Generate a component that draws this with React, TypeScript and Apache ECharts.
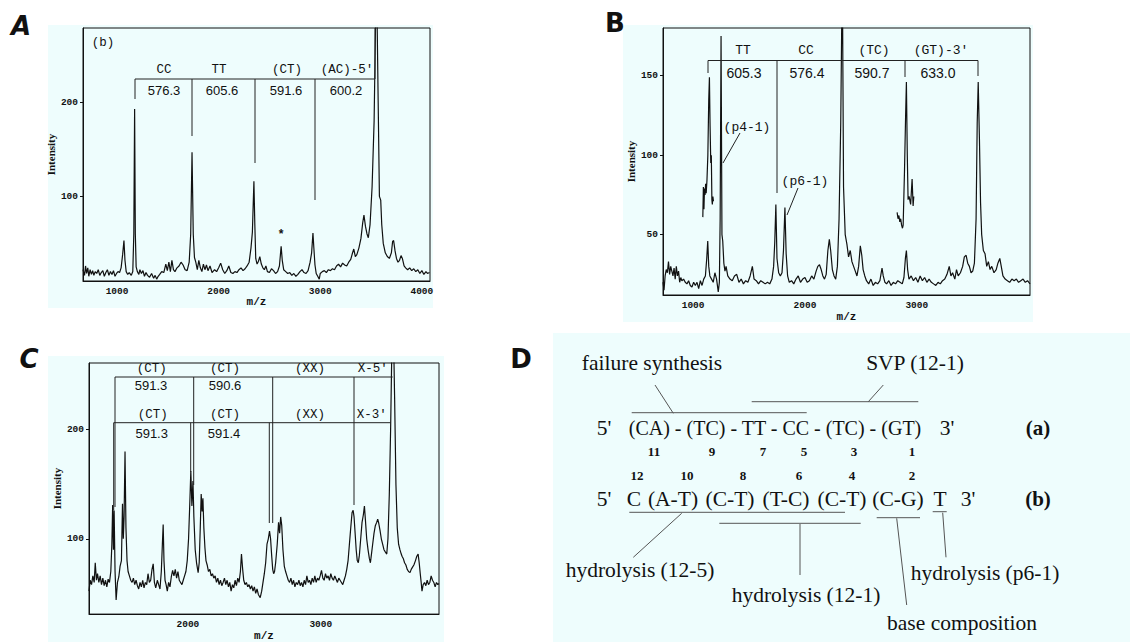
import React, { useEffect, useRef } from "react";
import * as echarts from "echarts";

// ---------- DATA ----------
// Panel A spectrum: [m/z, intensity]
const spectrumA: [number, number][] = [
  [665, 22], [680, 16], [690, 26], [700, 18], [712, 24], [722, 15], [735, 22], [748, 17], [760, 21], [772, 16],
  [785, 20], [800, 18], [815, 22], [830, 16], [845, 19], [860, 21], [875, 15], [890, 19], [905, 22], [920, 16],
  [935, 20], [950, 17], [965, 21], [980, 15], [995, 18], [1010, 20], [1025, 19], [1040, 24], [1055, 38], [1068, 53],
  [1078, 32], [1090, 20], [1105, 17], [1120, 19], [1140, 16], [1155, 20], [1165, 60], [1173, 193], [1180, 60], [1188, 25],
  [1200, 20], [1215, 17], [1225, 22], [1240, 18], [1255, 21], [1270, 15], [1285, 19], [1300, 16], [1320, 14], [1340, 18],
  [1360, 13], [1375, 16], [1390, 12], [1405, 15], [1420, 17], [1440, 20], [1460, 19], [1480, 28], [1495, 21], [1510, 30],
  [1525, 20], [1540, 32], [1555, 22], [1570, 20], [1590, 24], [1610, 26], [1630, 30], [1650, 27], [1670, 22], [1690, 21],
  [1710, 30], [1725, 60], [1738, 147], [1750, 60], [1762, 35], [1775, 30], [1790, 22], [1805, 32], [1820, 24], [1835, 20],
  [1850, 28], [1865, 22], [1880, 27], [1895, 21], [1915, 26], [1935, 19], [1960, 22], [1980, 20], [2000, 24], [2020, 29],
  [2040, 22], [2060, 18], [2080, 21], [2100, 26], [2120, 19], [2140, 18], [2160, 20], [2180, 19], [2200, 22], [2220, 24],
  [2240, 21], [2260, 23], [2280, 26], [2300, 30], [2318, 45], [2332, 62], [2347, 116], [2356, 70], [2365, 34], [2378, 28],
  [2392, 31], [2405, 36], [2420, 28], [2435, 24], [2450, 22], [2465, 26], [2480, 20], [2500, 19], [2520, 23], [2540, 21],
  [2560, 18], [2580, 20], [2598, 26], [2608, 38], [2615, 47], [2626, 32], [2640, 22], [2660, 20], [2680, 18], [2700, 19],
  [2720, 16], [2740, 18], [2760, 15], [2780, 17], [2800, 20], [2820, 22], [2840, 19], [2860, 18], [2880, 21], [2900, 30],
  [2915, 40], [2928, 61], [2937, 45], [2948, 27], [2960, 18], [2975, 15], [2990, 12], [3000, 18], [3020, 20], [3040, 21],
  [3060, 19], [3080, 22], [3100, 21], [3120, 23], [3140, 22], [3160, 26], [3180, 28], [3200, 25], [3220, 29], [3240, 27],
  [3260, 26], [3280, 30], [3300, 33], [3318, 40], [3330, 44], [3345, 36], [3360, 38], [3380, 45], [3400, 55], [3418, 72],
  [3430, 80], [3445, 68], [3460, 60], [3473, 56], [3490, 70], [3510, 110], [3530, 180], [3545, 290], [3558, 300], [3570, 200],
  [3582, 100], [3595, 96], [3605, 70], [3620, 50], [3640, 40], [3660, 36], [3680, 34], [3700, 40], [3712, 52], [3722, 53],
  [3736, 42], [3750, 34], [3765, 30], [3780, 32], [3795, 37], [3808, 34], [3825, 26], [3840, 24], [3860, 22], [3880, 24],
  [3900, 21], [3920, 23], [3940, 20], [3960, 22], [3980, 18], [4000, 21], [4020, 17], [4040, 20], [4055, 18], [4075, 19],
];

// Panel B spectrum
const spectrumB: [number, number][] = [
  [731, 20], [740, 15], [750, 24], [760, 28], [770, 26], [780, 33], [790, 25], [800, 30], [810, 27], [820, 24],
  [830, 29], [840, 22], [850, 30], [860, 24], [870, 27], [880, 20], [890, 23], [900, 21], [915, 22], [930, 20],
  [945, 19], [960, 21], [975, 18], [990, 17], [1005, 20], [1020, 18], [1035, 20], [1050, 16], [1065, 21], [1080, 18],
  [1095, 22], [1110, 24], [1122, 35], [1131, 46], [1140, 30], [1150, 24], [1165, 22], [1180, 20], [1195, 26], [1210, 22],
  [1225, 14], [1235, 20], [1242, 60], [1250, 175], [1258, 50], [1265, 46], [1275, 32], [1285, 27], [1295, 30], [1310, 24],
  [1330, 22], [1350, 21], [1370, 24], [1390, 25], [1410, 20], [1430, 22], [1450, 19], [1470, 21], [1490, 20], [1510, 24],
  [1530, 30], [1545, 22], [1565, 21], [1585, 19], [1605, 21], [1625, 20], [1645, 19], [1665, 20], [1685, 19], [1705, 22],
  [1720, 30], [1730, 45], [1740, 69], [1750, 35], [1765, 26], [1780, 24], [1795, 26], [1808, 40], [1821, 67], [1832, 38],
  [1845, 24], [1860, 20], [1880, 21], [1900, 19], [1920, 22], [1940, 24], [1960, 20], [1980, 22], [2000, 23], [2020, 20],
  [2040, 21], [2060, 24], [2080, 22], [2100, 27], [2115, 30], [2130, 31], [2145, 28], [2160, 24], [2175, 22], [2190, 25],
  [2205, 40], [2218, 47], [2230, 40], [2245, 28], [2260, 24], [2275, 22], [2290, 30], [2305, 60], [2320, 120], [2334, 220],
  [2345, 80], [2360, 50], [2375, 44], [2390, 36], [2405, 40], [2420, 33], [2435, 30], [2450, 27], [2465, 24], [2480, 30],
  [2495, 43], [2508, 37], [2520, 28], [2535, 24], [2550, 21], [2570, 19], [2590, 22], [2610, 18], [2630, 20], [2650, 19],
  [2670, 21], [2689, 29], [2700, 24], [2715, 20], [2730, 19], [2750, 21], [2770, 18], [2790, 20], [2810, 19], [2830, 21],
  [2850, 20], [2870, 19], [2885, 23], [2898, 35], [2907, 40], [2918, 28], [2930, 22], [2950, 24], [2970, 21], [2990, 23],
  [3010, 20], [3030, 24], [3050, 21], [3070, 23], [3090, 20], [3110, 22], [3130, 20], [3150, 19], [3170, 18], [3190, 20],
  [3210, 19], [3230, 21], [3250, 22], [3270, 25], [3290, 30], [3305, 24], [3320, 26], [3340, 22], [3355, 28], [3370, 24],
  [3390, 26], [3410, 30], [3425, 36], [3441, 37], [3455, 32], [3470, 30], [3485, 26], [3500, 27], [3515, 32], [3530, 60],
  [3540, 120], [3549, 146], [3560, 110], [3570, 70], [3580, 50], [3595, 40], [3610, 38], [3625, 30], [3640, 33], [3655, 28],
  [3670, 30], [3690, 26], [3710, 28], [3725, 32], [3742, 35], [3755, 30], [3770, 24], [3790, 22], [3810, 21], [3830, 20],
  [3850, 22], [3870, 21], [3890, 22], [3910, 20], [3930, 21], [3950, 22], [3970, 20], [3990, 21], [4012, 19],
];

// Panel B expanded insets
const insetB1: [number, number][] = [
  [1087, 61], [1092, 80], [1097, 66], [1102, 79], [1107, 75], [1112, 82], [1117, 76], [1124, 84], [1132, 100],
  [1140, 135], [1146, 149], [1152, 118], [1158, 95], [1163, 100], [1168, 72], [1172, 69], [1177, 74], [1182, 71],
];
const insetB2: [number, number][] = [
  [2824, 64], [2832, 60], [2840, 62], [2848, 58], [2856, 60], [2864, 56], [2872, 54], [2878, 56], [2890, 90],
  [2900, 125], [2907, 146], [2915, 100], [2922, 72], [2931, 74], [2945, 69], [2958, 85], [2967, 68], [2973, 74],
];

// Panel C spectrum
const spectrumC: [number, number][] = [
  [1256, 52], [1265, 62], [1275, 58], [1285, 66], [1295, 60], [1303, 78], [1312, 62], [1320, 68], [1330, 60], [1340, 66],
  [1350, 58], [1360, 64], [1370, 57], [1380, 62], [1390, 56], [1400, 63], [1410, 60], [1420, 70], [1428, 95], [1434, 131],
  [1440, 90], [1445, 126], [1452, 70], [1460, 44], [1470, 60], [1480, 65], [1490, 75], [1500, 80], [1508, 132], [1514, 100],
  [1520, 120], [1527, 180], [1534, 110], [1542, 80], [1550, 70], [1560, 66], [1570, 62], [1580, 60], [1590, 64], [1600, 58],
  [1610, 62], [1620, 57], [1630, 54], [1640, 60], [1650, 56], [1660, 62], [1670, 55], [1680, 60], [1690, 58], [1700, 68],
  [1710, 60], [1720, 62], [1730, 72], [1739, 77], [1748, 60], [1758, 55], [1770, 62], [1780, 58], [1790, 54], [1800, 70],
  [1808, 95], [1814, 113], [1820, 80], [1828, 62], [1836, 58], [1845, 52], [1855, 60], [1865, 56], [1875, 65], [1885, 71],
  [1895, 66], [1905, 72], [1915, 64], [1925, 70], [1935, 62], [1945, 60], [1955, 58], [1965, 62], [1975, 66], [1985, 70],
  [1995, 80], [2005, 100], [2015, 135], [2022, 162], [2030, 130], [2038, 153], [2045, 120], [2055, 90], [2065, 78], [2077, 69],
  [2085, 78], [2093, 110], [2100, 141], [2107, 125], [2113, 137], [2120, 110], [2128, 92], [2136, 80], [2145, 76], [2155, 70],
  [2165, 72], [2175, 66], [2185, 68], [2195, 64], [2205, 66], [2215, 60], [2225, 64], [2235, 58], [2245, 62], [2255, 57],
  [2265, 60], [2275, 64], [2285, 58], [2295, 62], [2305, 56], [2315, 60], [2325, 52], [2335, 58], [2345, 55], [2355, 62],
  [2365, 57], [2375, 64], [2385, 60], [2395, 70], [2403, 86], [2412, 72], [2420, 62], [2430, 58], [2440, 60], [2450, 56],
  [2460, 58], [2470, 54], [2480, 57], [2490, 52], [2500, 56], [2510, 50], [2520, 54], [2530, 49], [2544, 46], [2555, 52],
  [2565, 60], [2575, 68], [2585, 78], [2595, 95], [2605, 100], [2614, 107], [2622, 100], [2630, 85], [2638, 72], [2645, 68],
  [2652, 70], [2660, 78], [2672, 95], [2682, 115], [2690, 105], [2698, 120], [2706, 112], [2715, 90], [2725, 75], [2735, 70],
  [2745, 66], [2755, 62], [2765, 60], [2775, 64], [2785, 58], [2795, 62], [2805, 56], [2815, 60], [2825, 58], [2835, 62],
  [2845, 57], [2855, 60], [2865, 56], [2875, 62], [2885, 58], [2895, 66], [2905, 60], [2915, 62], [2925, 58], [2935, 64],
  [2945, 60], [2955, 66], [2965, 60], [2975, 64], [2985, 62], [2995, 66], [3005, 71], [3015, 64], [3025, 62], [3035, 68],
  [3045, 64], [3055, 66], [3065, 62], [3075, 68], [3085, 64], [3095, 62], [3105, 66], [3115, 63], [3125, 60], [3135, 64],
  [3145, 62], [3155, 60], [3165, 58], [3175, 62], [3185, 66], [3195, 72], [3205, 80], [3215, 95], [3225, 110], [3235, 124],
  [3243, 126], [3250, 120], [3258, 105], [3266, 90], [3274, 80], [3282, 78], [3290, 85], [3300, 100], [3310, 115], [3320, 122],
  [3328, 130], [3335, 118], [3345, 100], [3355, 90], [3365, 82], [3373, 78], [3380, 85], [3390, 95], [3400, 105], [3410, 112],
  [3420, 115], [3428, 118], [3436, 114], [3445, 108], [3455, 100], [3465, 95], [3475, 90], [3485, 88], [3496, 86], [3505, 100],
  [3515, 140], [3525, 200], [3535, 280], [3545, 300], [3555, 230], [3565, 150], [3575, 110], [3585, 95], [3595, 90], [3605, 86],
  [3611, 84], [3620, 82], [3630, 78], [3640, 76], [3650, 72], [3660, 70], [3671, 69], [3680, 72], [3690, 74], [3700, 76],
  [3712, 80], [3722, 84], [3732, 86], [3740, 78], [3748, 68], [3755, 60], [3761, 52], [3770, 58], [3780, 60], [3790, 57],
  [3800, 62], [3810, 58], [3820, 60], [3830, 66], [3840, 62], [3850, 60], [3860, 56], [3870, 60], [3880, 58], [3889, 59],
];

// Tick labels
const ticksAX = [1000, 2000, 3000, 4000];
const ticksAY = [100, 200];
const ticksBX = [1000, 2000, 3000];
const ticksBY = [50, 100, 150];
const ticksCX = [2000, 3000];
const ticksCY = [100, 200];

// ---------- STYLE ----------
const BG = "#eefdfd";
const INK = "#111";
const TICK_FONT = { fontFamily: "Liberation Mono", fontWeight: "bold" as const, fontSize: 9.5, color: INK };
const SERIF = "Liberation Serif";
const plain = (v: number) => String(v);

function xAx(gridIndex: number, min: number, max: number, vals: number[], gap: number) {
  return {
    type: "value", gridIndex, min, max,
    splitLine: { show: false },
    axisLine: { show: true, lineStyle: { color: INK, width: 1 } },
    axisTick: { show: false },
    axisLabel: { customValues: vals, margin: 5, formatter: plain, ...TICK_FONT },
    name: "m/z", nameLocation: "middle", nameGap: gap,
    nameTextStyle: { fontFamily: "Liberation Mono", fontWeight: "bold", fontSize: 11, color: INK },
  };
}
function yAx(gridIndex: number, min: number, max: number, vals: number[], gap: number) {
  return {
    type: "value", gridIndex, min, max,
    splitLine: { show: false },
    axisLine: { show: true, lineStyle: { color: INK, width: 1 } },
    axisTick: { show: true, customValues: vals, length: 3, lineStyle: { color: INK } },
    axisLabel: { customValues: vals, margin: 5, formatter: plain, ...TICK_FONT },
    name: "Intensity", nameLocation: "middle", nameGap: gap,
    nameTextStyle: { fontFamily: SERIF, fontWeight: "bold", fontSize: 11, color: INK },
  };
}
function line(data: [number, number][], idx: number) {
  return {
    type: "line", data, xAxisIndex: idx, yAxisIndex: idx, symbol: "none", showSymbol: false,
    lineStyle: { color: INK, width: 1.2 }, clip: true, z: 5, silent: true,
  };
}

const T = (text: string, x: number, y: number, font: string, color = INK) => ({
  type: "text", x, y, z: 20,
  style: { text, fill: color, font, align: "center", verticalAlign: "middle" },
});
const L = (x1: number, y1: number, x2: number, y2: number, color = "#222") => ({
  type: "line", z: 20, shape: { x1, y1, x2, y2 }, style: { stroke: color, lineWidth: 1 },
});
const R = (x: number, y: number, width: number, height: number) => ({
  type: "rect", z: -100, shape: { x, y, width, height }, style: { fill: BG },
});

const MONO12 = "12.5px Liberation Mono";
const MONO13 = "13px Liberation Mono";
const SANS13 = "13px Liberation Sans";
const SANS14 = "14px Liberation Sans";
const D_FONT = `21.5px ${SERIF}`;
const D_SEQ = `20px ${SERIF}`;
const D_NUM = `bold 13px ${SERIF}`;
const PANEL = "bold 26px DejaVu Sans";
const PANEL_I = "italic bold 26px DejaVu Sans";
const GRAY = "#555";

function buildGraphics() {
  const g: any[] = [];
  // backgrounds
  g.push(R(48, 25, 385, 283), R(623, 25, 410, 297), R(48, 356, 396, 286), R(553, 333, 577, 309));
  // panel letters
  g.push(T("A", 21, 26, PANEL_I), T("B", 615, 23, PANEL), T("C", 29, 359, PANEL_I), T("D", 521, 359, PANEL));

  // ---- Panel A annotations ----
  g.push(T("(b)", 103, 43, MONO12));
  g.push(L(135, 79, 375, 79));
  g.push(L(135, 79, 135, 99), L(192, 79, 192, 136), L(255, 79, 255, 163), L(315, 79, 315, 200), L(375, 28, 375, 79));
  g.push(T("CC", 164, 70, MONO12), T("TT", 219, 70, MONO12), T("(CT)", 287, 70, MONO12), T("(AC)-5'", 347, 70, MONO12));
  g.push(T("576.3", 164, 90, SANS13), T("605.6", 222, 90, SANS13), T("591.6", 286, 90, SANS13), T("600.2", 346, 90, SANS13));
  g.push(T("*", 281, 235, "bold 12px Liberation Mono"));

  // ---- Panel B annotations ----
  g.push(L(708, 60.5, 978, 60.5));
  g.push(L(708, 60.5, 708, 73), L(905, 60.5, 905, 77), L(978, 60.5, 978, 76), L(777, 60.5, 777, 193));
  g.push(T("TT", 743, 50, MONO13), T("CC", 806, 50, MONO13), T("(TC)", 874, 50, MONO13), T("(GT)-3'", 941, 50, MONO13));
  g.push(T("605.3", 744, 73, SANS14), T("576.4", 807, 73, SANS14), T("590.7", 872, 73, SANS14), T("633.0", 938, 73, SANS14));
  g.push(T("(p4-1)", 747, 127, MONO13), L(740, 133, 723, 163));
  g.push(T("(p6-1)", 805, 181, MONO13), L(798, 188, 787, 215));

  // ---- Panel C annotations ----
  g.push(L(115, 377, 392.7, 377));
  g.push(L(115, 377, 115, 507), L(193.7, 377, 193.7, 485), L(272.7, 377, 272.7, 523), L(354, 377, 354, 505));
  g.push(T("(CT)", 151.7, 369, MONO12), T("(CT)", 225, 369, MONO12), T("(XX)", 310, 369, MONO12), T("X-5'", 372.7, 369, MONO12));
  g.push(T("591.3", 151, 385, SANS13), T("590.6", 225, 385, SANS13));
  g.push(L(113.7, 422.7, 390.7, 422.7));
  g.push(L(113.7, 422.7, 113.7, 510), L(190.7, 422.7, 190.7, 472), L(269.3, 422.7, 269.3, 523));
  g.push(T("(CT)", 152.7, 415, MONO12), T("(CT)", 225, 415, MONO12), T("(XX)", 310, 415, MONO12), T("X-3'", 371.7, 415, MONO12));
  g.push(T("591.3", 151.7, 433, SANS13), T("591.4", 224, 433, SANS13));

  // ---- Panel D diagram ----
  g.push(T("failure synthesis", 652, 363, D_FONT), T("SVP (12-1)", 915, 363, D_FONT));
  g.push(L(655, 385, 673.3, 413.3, GRAY), L(631.7, 412.7, 806.7, 412.7, GRAY));
  g.push(L(883.3, 385, 868.3, 401.7, GRAY), L(751.7, 401.7, 918.3, 401.7, GRAY));
  g.push(T("5'", 604, 428, D_FONT), T("(CA) - (TC) - TT - CC - (TC) - (GT)", 775, 428, D_SEQ), T("3'", 947, 428, D_FONT));
  g.push(T("(a)", 1038, 428, `bold 21px ${SERIF}`));
  const numsA: [string, number][] = [["11", 654], ["9", 712], ["7", 763], ["5", 804], ["3", 854], ["1", 912]];
  numsA.forEach(([t, x]) => g.push(T(t, x, 451, D_NUM)));
  const numsB: [string, number][] = [["12", 637], ["10", 687], ["8", 743], ["6", 799], ["4", 852], ["2", 912]];
  numsB.forEach(([t, x]) => g.push(T(t, x, 475, D_NUM)));
  const rowB: [string, number][] = [["5'", 604], ["C", 634], ["(A-T)", 673], ["(C-T)", 730], ["(T-C)", 786], ["(C-T)", 842], ["(C-G)", 898], ["T", 940], ["3'", 968]];
  rowB.forEach(([t, x]) => g.push(T(t, x, 499, D_FONT)));
  g.push(T("(b)", 1038, 499, `bold 21px ${SERIF}`));
  g.push(L(629.3, 512.3, 845, 512.3, GRAY), L(681.7, 513.3, 633.3, 557.3, GRAY));
  g.push(L(719.3, 523.3, 860.7, 523.3, GRAY), L(800, 524, 800, 575, GRAY));
  g.push(L(876.7, 517.7, 920, 517.7, GRAY), L(896.7, 518.3, 906.7, 605, GRAY));
  g.push(L(932.7, 511.7, 946.7, 511.7, GRAY), L(942.7, 512.7, 946, 557.3, GRAY));
  g.push(T("hydrolysis (12-5)", 640, 570, D_FONT), T("hydrolysis (12-1)", 806, 595, D_FONT));
  g.push(T("base composition", 962, 623, D_FONT), T("hydrolysis (p6-1)", 985, 573, D_FONT));
  return g;
}

export default function App() {
  const ref = useRef<HTMLDivElement>(null);
  useEffect(() => {
    if (!ref.current) return;
    const chart = echarts.init(ref.current, undefined, { renderer: "svg" });
    const gridStyle = { show: true, borderColor: INK, borderWidth: 1, backgroundColor: "transparent" };
    chart.setOption({
      animation: false,
      backgroundColor: "transparent",
      grid: [
        { left: 83, top: 28, width: 347, height: 253, ...gridStyle },
        { left: 663, top: 28, width: 367, height: 267, ...gridStyle },
        { left: 89, top: 363, width: 350, height: 257, ...gridStyle },
      ],
      xAxis: [
        xAx(0, 665, 4080, ticksAX, 15),
        xAx(1, 731, 4012, ticksBX, 16),
        xAx(2, 1256, 3889, ticksCX, 14),
      ],
      yAxis: [
        yAx(0, 10, 279, ticksAY, 25),
        yAx(1, 12, 180, ticksBY, 27),
        yAx(2, 31, 261, ticksCY, 27),
      ],
      series: [
        line(spectrumA, 0),
        line(spectrumB, 1),
        line(insetB1, 1),
        line(insetB2, 1),
        line(spectrumC, 2),
      ],
      graphic: buildGraphics(),
    });
    return () => chart.dispose();
  }, []);
  return (
    <div
      ref={ref}
      style={{ position: "fixed", left: 0, top: 0, width: 1130, height: 642, background: "#fff" }}
    />
  );
}
